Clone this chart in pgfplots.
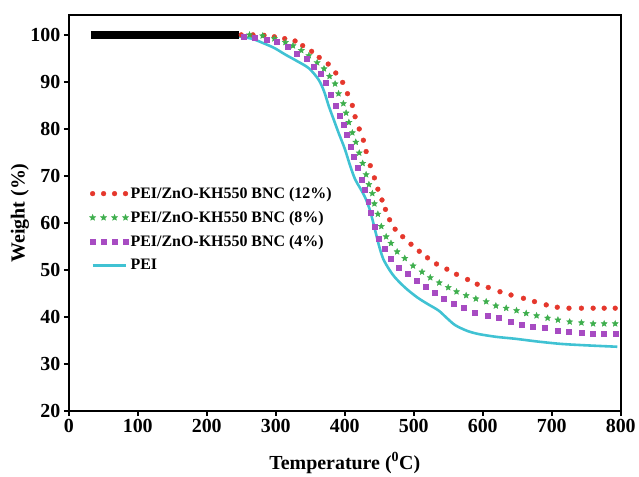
\documentclass[border=0pt]{standalone}
\usepackage{fontspec}
\setmainfont{Liberation Serif}
\usepackage{pgfplots}
\pgfplotsset{compat=1.18}
\usetikzlibrary{plotmarks}
\definecolor{tgared}{HTML}{E5372C}
\definecolor{tgagreen}{HTML}{3DAE4C}
\definecolor{tgapurple}{HTML}{A74BC2}
\definecolor{tgacyan}{HTML}{40C2D3}

% filled five-point star
\pgfdeclareplotmark{fstar}{%
  \pgfpathmoveto{\pgfpointpolar{90}{\pgfplotmarksize}}%
  \pgfpathlineto{\pgfpointpolar{126}{0.45\pgfplotmarksize}}%
  \pgfpathlineto{\pgfpointpolar{162}{\pgfplotmarksize}}%
  \pgfpathlineto{\pgfpointpolar{198}{0.45\pgfplotmarksize}}%
  \pgfpathlineto{\pgfpointpolar{234}{\pgfplotmarksize}}%
  \pgfpathlineto{\pgfpointpolar{270}{0.45\pgfplotmarksize}}%
  \pgfpathlineto{\pgfpointpolar{306}{\pgfplotmarksize}}%
  \pgfpathlineto{\pgfpointpolar{342}{0.45\pgfplotmarksize}}%
  \pgfpathlineto{\pgfpointpolar{18}{\pgfplotmarksize}}%
  \pgfpathlineto{\pgfpointpolar{54}{0.45\pgfplotmarksize}}%
  \pgfpathclose
  \pgfusepathqfillstroke}

\begin{document}
\begin{tikzpicture}
\begin{axis}[
    scale only axis,
    width=554pt,
    height=398pt,
    xmin=0, xmax=800,
    ymin=20, ymax=104.3,
    xtick={0,100,...,800},
    ytick={20,30,...,100},
    xtick pos=bottom,
    ytick pos=left,
    tick align=outside,
    major tick length=5pt,
    every tick/.style={black,line width=1.6pt},
    axis line style={black,line width=2.2pt},
    /pgf/number format/assume math mode=true,
    ticklabel style={font=\fontsize{20}{24}\selectfont\bfseries},
    xlabel={Temperature (\textsuperscript{0}C)},
    ylabel={Weight (\%)},
    label style={font=\fontsize{20}{24}\selectfont\bfseries},
    xlabel style={at={(axis description cs:0.5,-0.13)},anchor=center},
    ylabel style={at={(axis description cs:-0.0885,0.5)},anchor=center},
    legend style={draw=none,fill=none,at={(0.032,0.575)},anchor=north west,
        font=\fontsize{16}{19}\selectfont\bfseries,row sep=7.5pt},
    legend cell align=left,
    legend image code/.code={\draw[#1,mark repeat=1] plot coordinates {(0pt,0pt) (11pt,0pt) (22pt,0pt) (33pt,0pt)};},
]
\addplot[only marks,mark=*,mark size=2.4pt,color=tgared] coordinates {
(250,100.0)(267,100.0)(283,99.9)(298,99.6)(313,99.2)(328,98.7)(339,97.7)(352,96.5)
(363,95.2)(376,93.8)(387,91.9)(397,89.9)(404,87.5)(411,85.0)(415,82.6)(421,80.0)
(427,77.6)(431,75.2)(437,72.2)(443,69.6)(448,67.2)(454,64.9)(459,62.9)(465,60.7)
(473,58.7)(484,57.1)(496,55.5)(508,54.0)(520,52.6)(533,51.3)(548,50.2)(562,49.1)
(578,48.0)(592,47.0)(608,46.3)(625,45.4)(641,44.7)(659,44.0)(675,43.3)(692,42.6)
(708,42.1)(725,41.9)(743,41.9)(760,41.9)(776,41.9)(792,41.9)
};
\addlegendentry{PEI/ZnO-KH550 BNC (12\%)}
\addplot[only marks,mark=fstar,mark size=3.2pt,color=tgagreen] coordinates {
(262,100.0)(281,99.8)(298,99.2)(314,98.4)(325,97.7)(337,96.7)(348,95.6)(360,94.1)
(370,92.8)(378,91.2)(386,89.6)(391,87.5)(398,85.4)(402,83.4)(406,81.4)(411,79.2)
(416,77.2)(421,74.9)(426,72.7)(431,70.3)(435,68.2)(440,66.3)(443,64.1)(448,61.9)
(453,59.3)(460,57.1)(467,55.7)(476,53.9)(487,52.5)(499,50.9)(512,49.6)(524,48.4)
(537,47.3)(550,46.3)(562,45.4)(576,44.6)(590,43.9)(605,43.3)(619,42.4)(634,41.9)
(649,41.4)(663,40.8)(678,40.3)(694,39.8)(709,39.4)(726,39.0)(743,38.8)(760,38.6)
(776,38.6)(792,38.6)
};
\addlegendentry{PEI/ZnO-KH550 BNC (8\%)}
\addplot[only marks,mark=square*,mark size=2.5pt,color=tgapurple] coordinates {
(254,99.7)(270,99.5)(287,98.9)(302,98.6)(318,97.4)(331,96.1)(345,94.9)(355,93.3)
(365,91.7)(373,89.8)(379,87.3)(387,85.0)(393,82.9)(399,80.9)(403,78.7)(408,76.3)
(413,74.1)(419,71.7)(424,69.3)(429,67.0)(434,64.6)(438,62.1)(444,59.3)(449,56.7)
(458,54.6)(467,52.5)(478,50.6)(491,49.2)(504,47.8)(517,46.4)(530,45.1)(543,44.0)
(558,42.8)(573,41.9)(589,40.9)(607,40.3)(623,39.8)(640,39.0)(657,38.3)(673,38.0)
(690,37.7)(708,37.1)(725,36.9)(743,36.7)(760,36.4)(776,36.4)(792,36.4)
};
\addlegendentry{PEI/ZnO-KH550 BNC (4\%)}
\addplot[tgacyan,line width=2.6pt,smooth,no marks] coordinates {
(245,99.7)(265,99.2)(281,98.3)(298,97.2)(314,95.8)(330,94.5)(348,92.9)(362,90.5)
(370,88.0)(377,84.8)(384,82.0)(391,79.2)(400,75.8)(408,72.1)(415,69.3)(422,67.5)
(430,65.3)(437,62.5)(444,58.5)(450,55.0)(456,52.3)(465,50.0)(473,48.4)(488,46.2)
(505,44.2)(520,42.8)(536,41.4)(548,39.8)(560,38.3)(577,37.1)(594,36.4)(620,35.8)
(647,35.4)(680,34.8)(714,34.3)(750,34.0)(795,33.7)
};
\addlegendentry{PEI}
\addplot[black,line width=7.5pt,forget plot] coordinates {(32,100) (247,100)};
\end{axis}
\path (current axis.south west) ++(-69pt,-63.3pt);
\path (current axis.north east) ++(16pt,14.7pt);
\end{tikzpicture}
\end{document}
